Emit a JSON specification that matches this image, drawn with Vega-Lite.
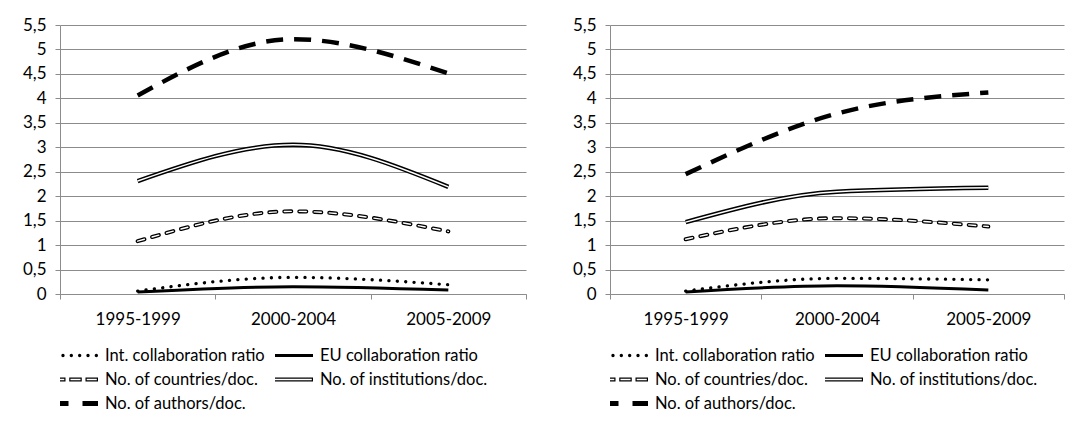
{
  "$schema": "https://vega.github.io/schema/vega-lite/v6.json",
  "padding": {"left": 22, "top": 16, "right": 0, "bottom": 0},
  "background": "white",
  "config": {
    "font": "Lato",
    "view": {"stroke": null},
    "concat": {"spacing": 45},
    "axis": {"labelFont": "Lato", "labelFontSize": 17, "labelColor": "#000000", "domainColor": "#8c8c8c", "tickColor": "#8c8c8c", "gridColor": "#8c8c8c", "tickSize": 5, "title": null},
    "legend": {"labelFont": "Lato", "labelFontSize": 16.5, "labelColor": "#000000", "labelLimit": 400}
  },
  "datasets": {
    "d": [
      {"panel": "A", "period": "1995-1999", "series": "Int. collaboration ratio", "value": 0.06},
      {"panel": "A", "period": "2000-2004", "series": "Int. collaboration ratio", "value": 0.34},
      {"panel": "A", "period": "2005-2009", "series": "Int. collaboration ratio", "value": 0.19},
      {"panel": "A", "period": "1995-1999", "series": "EU collaboration ratio", "value": 0.04},
      {"panel": "A", "period": "2000-2004", "series": "EU collaboration ratio", "value": 0.15},
      {"panel": "A", "period": "2005-2009", "series": "EU collaboration ratio", "value": 0.08},
      {"panel": "A", "period": "1995-1999", "series": "No. of countries/doc.", "value": 1.08},
      {"panel": "A", "period": "2000-2004", "series": "No. of countries/doc.", "value": 1.69},
      {"panel": "A", "period": "2005-2009", "series": "No. of countries/doc.", "value": 1.28},
      {"panel": "A", "period": "1995-1999", "series": "No. of institutions/doc.", "value": 2.31},
      {"panel": "A", "period": "2000-2004", "series": "No. of institutions/doc.", "value": 3.05},
      {"panel": "A", "period": "2005-2009", "series": "No. of institutions/doc.", "value": 2.19},
      {"panel": "A", "period": "1995-1999", "series": "No. of authors/doc.", "value": 4.06},
      {"panel": "A", "period": "2000-2004", "series": "No. of authors/doc.", "value": 5.21},
      {"panel": "A", "period": "2005-2009", "series": "No. of authors/doc.", "value": 4.51},
      {"panel": "B", "period": "1995-1999", "series": "Int. collaboration ratio", "value": 0.06},
      {"panel": "B", "period": "2000-2004", "series": "Int. collaboration ratio", "value": 0.32},
      {"panel": "B", "period": "2005-2009", "series": "Int. collaboration ratio", "value": 0.29},
      {"panel": "B", "period": "1995-1999", "series": "EU collaboration ratio", "value": 0.04},
      {"panel": "B", "period": "2000-2004", "series": "EU collaboration ratio", "value": 0.17},
      {"panel": "B", "period": "2005-2009", "series": "EU collaboration ratio", "value": 0.08},
      {"panel": "B", "period": "1995-1999", "series": "No. of countries/doc.", "value": 1.12},
      {"panel": "B", "period": "2000-2004", "series": "No. of countries/doc.", "value": 1.55},
      {"panel": "B", "period": "2005-2009", "series": "No. of countries/doc.", "value": 1.38},
      {"panel": "B", "period": "1995-1999", "series": "No. of institutions/doc.", "value": 1.47},
      {"panel": "B", "period": "2000-2004", "series": "No. of institutions/doc.", "value": 2.09},
      {"panel": "B", "period": "2005-2009", "series": "No. of institutions/doc.", "value": 2.17},
      {"panel": "B", "period": "1995-1999", "series": "No. of authors/doc.", "value": 2.45},
      {"panel": "B", "period": "2000-2004", "series": "No. of authors/doc.", "value": 3.69},
      {"panel": "B", "period": "2005-2009", "series": "No. of authors/doc.", "value": 4.12}
    ]
  },
  "resolve": {
    "scale": {"shape": "independent"},
    "legend": {"shape": "independent"}
  },
  "hconcat": [
    {
      "width": 466,
      "height": 269,
      "data": {"name": "d"},
      "transform": [{"filter": "datum.panel == 'A'"}],
      "encoding": {
        "x": {"field": "period", "type": "nominal", "bandPosition": 0.5,
          "scale": {"type": "band", "paddingInner": 0, "paddingOuter": 0},
          "axis": {"tickBand": "extent", "labelAngle": 0, "labelPadding": 12, "grid": false}},
        "y": {"field": "value", "type": "quantitative",
          "scale": {"domain": [0, 5.5], "nice": false},
          "axis": {"values": [0, 0.5, 1, 1.5, 2, 2.5, 3, 3.5, 4, 4.5, 5, 5.5], "labelExpr": "replace(toString(datum.value), '.', ',')", "labelPadding": 9, "grid": true}}
      },
      "layer": [
        {"transform": [{"filter": "datum.series == 'Int. collaboration ratio'"}],
         "mark": {"type": "line", "interpolate": "monotone", "color": "black", "strokeWidth": 3.3, "strokeDash": [0.1, 8.3], "strokeCap": "round"}},
        {"transform": [{"filter": "datum.series == 'EU collaboration ratio'"}],
         "mark": {"type": "line", "interpolate": "monotone", "color": "black", "strokeWidth": 3}},
        {"transform": [{"filter": "datum.series == 'No. of countries/doc.'"}],
         "mark": {"type": "line", "interpolate": "monotone", "color": "black", "strokeWidth": 4, "strokeDash": [7, 8], "strokeCap": "round"}},
        {"transform": [{"filter": "datum.series == 'No. of countries/doc.'"}],
         "mark": {"type": "line", "interpolate": "monotone", "color": "white", "strokeWidth": 1.4, "strokeDash": [7, 8], "strokeCap": "round"}},
        {"transform": [{"filter": "datum.series == 'No. of institutions/doc.'"}],
         "mark": {"type": "line", "interpolate": "monotone", "color": "black", "strokeWidth": 4.5}},
        {"transform": [{"filter": "datum.series == 'No. of institutions/doc.'"}],
         "mark": {"type": "line", "interpolate": "monotone", "color": "white", "strokeWidth": 1.5}},
        {"transform": [{"filter": "datum.series == 'No. of authors/doc.'"}],
         "mark": {"type": "line", "interpolate": "monotone", "color": "black", "strokeWidth": 4.5, "strokeDash": [17, 11]}},
        {"transform": [{"filter": "false"}],
         "mark": {"type": "point", "filled": true, "color": "black", "opacity": 1},
         "encoding": {
           "shape": {"field": "series", "type": "nominal",
             "scale": {"domain": ["Int. collaboration ratio", "EU collaboration ratio", "No. of countries/doc.", "No. of institutions/doc.", "No. of authors/doc."],
               "range": [
                 "M-1,0a0.0733,0.0733 0 1,0 0.1466,0a0.0733,0.0733 0 1,0 -0.1466,0ZM-0.6293,0a0.0733,0.0733 0 1,0 0.1466,0a0.0733,0.0733 0 1,0 -0.1466,0ZM-0.2586,0a0.0733,0.0733 0 1,0 0.1466,0a0.0733,0.0733 0 1,0 -0.1466,0ZM0.112,0a0.0733,0.0733 0 1,0 0.1466,0a0.0733,0.0733 0 1,0 -0.1466,0ZM0.4827,0a0.0733,0.0733 0 1,0 0.1466,0a0.0733,0.0733 0 1,0 -0.1466,0ZM0.8534,0a0.0733,0.0733 0 1,0 0.1466,0a0.0733,0.0733 0 1,0 -0.1466,0Z",
                 "M-1,-0.071H1V0.071H-1Z",
                 "M-1,-0.093H-0.444V0.093H-1ZM-0.947,-0.033V0.033H-0.497V-0.033ZM-0.278,-0.093H0.278V0.093H-0.278ZM-0.225,-0.033V0.033H0.225V-0.033ZM0.444,-0.093H1V0.093H0.444ZM0.497,-0.033V0.033H0.947V-0.033Z",
                 "M-1,-0.093H1V0.093H-1ZM-0.947,-0.033V0.033H0.947V-0.033Z",
                 "M-1,-0.107H-0.311V0.107H-1ZM0.311,-0.107H1V0.107H0.311Z"
               ]},
             "legend": {"title": null, "orient": "bottom", "columns": 2, "symbolSize": 2025, "symbolOffset": -7, "labelOffset": 7, "clipHeight": 21, "rowPadding": 3, "columnPadding": 10, "symbolStrokeWidth": 0, "symbolFillColor": "black", "symbolOpacity": 1, "labelFontSize": 16.5, "labelFont": "Lato", "labelColor": "#000000", "labelLimit": 400, "offset": 18, "padding": 0}}
         }}
      ]
    },
    {
      "width": 454,
      "height": 269,
      "data": {"name": "d"},
      "transform": [{"filter": "datum.panel == 'B'"}],
      "encoding": {
        "x": {"field": "period", "type": "nominal", "bandPosition": 0.5,
          "scale": {"type": "band", "paddingInner": 0, "paddingOuter": 0},
          "axis": {"tickBand": "extent", "labelAngle": 0, "labelPadding": 12, "grid": false}},
        "y": {"field": "value", "type": "quantitative",
          "scale": {"domain": [0, 5.5], "nice": false},
          "axis": {"values": [0, 0.5, 1, 1.5, 2, 2.5, 3, 3.5, 4, 4.5, 5, 5.5], "labelExpr": "replace(toString(datum.value), '.', ',')", "labelPadding": 9, "grid": true}}
      },
      "layer": [
        {"transform": [{"filter": "datum.series == 'Int. collaboration ratio'"}],
         "mark": {"type": "line", "interpolate": "monotone", "color": "black", "strokeWidth": 3.3, "strokeDash": [0.1, 8.3], "strokeCap": "round"}},
        {"transform": [{"filter": "datum.series == 'EU collaboration ratio'"}],
         "mark": {"type": "line", "interpolate": "monotone", "color": "black", "strokeWidth": 3}},
        {"transform": [{"filter": "datum.series == 'No. of countries/doc.'"}],
         "mark": {"type": "line", "interpolate": "monotone", "color": "black", "strokeWidth": 4, "strokeDash": [7, 8], "strokeCap": "round"}},
        {"transform": [{"filter": "datum.series == 'No. of countries/doc.'"}],
         "mark": {"type": "line", "interpolate": "monotone", "color": "white", "strokeWidth": 1.4, "strokeDash": [7, 8], "strokeCap": "round"}},
        {"transform": [{"filter": "datum.series == 'No. of institutions/doc.'"}],
         "mark": {"type": "line", "interpolate": "monotone", "color": "black", "strokeWidth": 4.5}},
        {"transform": [{"filter": "datum.series == 'No. of institutions/doc.'"}],
         "mark": {"type": "line", "interpolate": "monotone", "color": "white", "strokeWidth": 1.5}},
        {"transform": [{"filter": "datum.series == 'No. of authors/doc.'"}],
         "mark": {"type": "line", "interpolate": "monotone", "color": "black", "strokeWidth": 4.5, "strokeDash": [17, 11]}},
        {"transform": [{"filter": "false"}],
         "mark": {"type": "point", "filled": true, "color": "black", "opacity": 1},
         "encoding": {
           "shape": {"field": "series", "type": "nominal",
             "scale": {"domain": ["Int. collaboration ratio", "EU collaboration ratio", "No. of countries/doc.", "No. of institutions/doc.", "No. of authors/doc."],
               "range": [
                 "M-1,0a0.0733,0.0733 0 1,0 0.1466,0a0.0733,0.0733 0 1,0 -0.1466,0ZM-0.6293,0a0.0733,0.0733 0 1,0 0.1466,0a0.0733,0.0733 0 1,0 -0.1466,0ZM-0.2586,0a0.0733,0.0733 0 1,0 0.1466,0a0.0733,0.0733 0 1,0 -0.1466,0ZM0.112,0a0.0733,0.0733 0 1,0 0.1466,0a0.0733,0.0733 0 1,0 -0.1466,0ZM0.4827,0a0.0733,0.0733 0 1,0 0.1466,0a0.0733,0.0733 0 1,0 -0.1466,0ZM0.8534,0a0.0733,0.0733 0 1,0 0.1466,0a0.0733,0.0733 0 1,0 -0.1466,0Z",
                 "M-1,-0.071H1V0.071H-1Z",
                 "M-1,-0.093H-0.444V0.093H-1ZM-0.947,-0.033V0.033H-0.497V-0.033ZM-0.278,-0.093H0.278V0.093H-0.278ZM-0.225,-0.033V0.033H0.225V-0.033ZM0.444,-0.093H1V0.093H0.444ZM0.497,-0.033V0.033H0.947V-0.033Z",
                 "M-1,-0.093H1V0.093H-1ZM-0.947,-0.033V0.033H0.947V-0.033Z",
                 "M-1,-0.107H-0.311V0.107H-1ZM0.311,-0.107H1V0.107H0.311Z"
               ]},
             "legend": {"title": null, "orient": "bottom", "columns": 2, "symbolSize": 2025, "symbolOffset": -7, "labelOffset": 7, "clipHeight": 21, "rowPadding": 3, "columnPadding": 10, "symbolStrokeWidth": 0, "symbolFillColor": "black", "symbolOpacity": 1, "labelFontSize": 16.5, "labelFont": "Lato", "labelColor": "#000000", "labelLimit": 400, "offset": 18, "padding": 0}}
         }}
      ]
    }
  ]
}
